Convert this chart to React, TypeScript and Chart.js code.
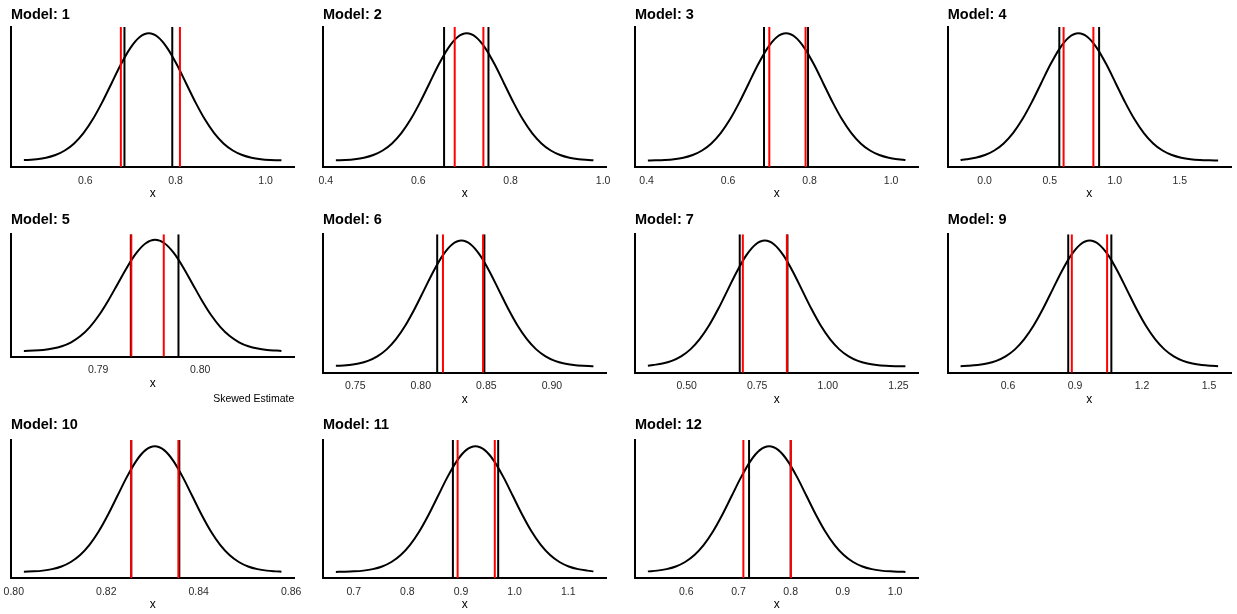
import React, { useEffect, useRef } from "react";
import { Chart, registerables } from "chart.js";

Chart.register(...registerables);

// ---------------- data ----------------
const modelNames = ["1", "2", "3", "4", "5", "6", "7", "9", "10", "11", "12"];

// centre and spread of each fitted bell curve
const curveMean = [0.741, 0.705, 0.742, 0.721, 0.79558, 0.831, 0.777, 0.966, 0.8305, 0.9269, 0.7587];
const curveSd = [0.0828, 0.0808, 0.0916, 0.2874, 0.003657, 0.02853, 0.1319, 0.1673, 0.008076, 0.0696, 0.0715];
// x-extent over which each curve is drawn
const curveFrom = [0.464, 0.422, 0.403, -0.185, 0.78272, 0.7352, 0.3626, 0.388, 0.80218, 0.6668, 0.5265];
const curveTo = [1.035, 0.979, 1.035, 1.795, 0.80796, 0.9317, 1.275, 1.541, 0.85789, 1.1468, 1.0198];

// interval lines
const blackLines = [
  [0.687, 0.793],
  [0.656, 0.752],
  [0.688, 0.796],
  [0.574, 0.88],
  [0.7932, 0.79787],
  [0.8125, 0.8485],
  [0.688, 0.857],
  [0.87, 1.063],
  [0.8254, 0.8358],
  [0.8849, 0.9693],
  [0.7203, 0.8],
];
const redLines = [
  [0.679, 0.81],
  [0.679, 0.741],
  [0.701, 0.79],
  [0.607, 0.836],
  [0.79325, 0.79643],
  [0.8169, 0.8475],
  [0.699, 0.855],
  [0.886, 1.044],
  [0.8254, 0.8356],
  [0.8937, 0.963],
  [0.7094, 0.8004],
];

const tickLabels = [
  ["0.6", "0.8", "1.0"],
  ["0.4", "0.6", "0.8", "1.0"],
  ["0.4", "0.6", "0.8", "1.0"],
  ["0.0", "0.5", "1.0", "1.5"],
  ["0.79", "0.80"],
  ["0.75", "0.80", "0.85", "0.90"],
  ["0.50", "0.75", "1.00", "1.25"],
  ["0.6", "0.9", "1.2", "1.5"],
  ["0.80", "0.82", "0.84", "0.86"],
  ["0.7", "0.8", "0.9", "1.0", "1.1"],
  ["0.6", "0.7", "0.8", "0.9", "1.0"],
];

const captions = ["", "", "", "", "Skewed Estimate", "", "", "", "", "", ""];

// shared bell shape: relative height at offsets (in sd units) from the centre
const bellZ = [
  -4.5, -4.25, -4, -3.75, -3.5, -3.25, -3, -2.75, -2.5, -2.25, -2, -1.75, -1.5, -1.25, -1, -0.75, -0.5, -0.25,
  0, 0.25, 0.5, 0.75, 1, 1.25, 1.5, 1.75, 2, 2.25, 2.5, 2.75, 3, 3.25, 3.5, 3.75, 4, 4.25, 4.5,
];
const bellHeight = [
  0.00004, 0.00012, 0.00034, 0.00088, 0.0022, 0.0051, 0.0111, 0.0228, 0.0439, 0.0796, 0.1353, 0.2163, 0.3247,
  0.4578, 0.6065, 0.7548, 0.8825, 0.9692, 1, 0.9692, 0.8825, 0.7548, 0.6065, 0.4578, 0.3247, 0.2163, 0.1353,
  0.0796, 0.0439, 0.0228, 0.0111, 0.0051, 0.0022, 0.00088, 0.00034, 0.00012, 0.00004,
];

// ---------------- layout / style ----------------
const FONT = "'Liberation Sans', Arial, Helvetica, sans-serif";
const PANEL_W = 312;
const PAGE_W = 1237;
const ROW_TOP = [0, 205, 410];
const ROW_H = [205, 205, 204];
const PLOT_TOP = [27, 29.3, 30];
const PLOT_BOTTOM = [167, 167.7, 168.3];
const CAPTION_PLOT_BOTTOM = 151.7;
const TITLE_CENTER = 14.5;
const TITLE_SIZE = 14.5;
const TICK_SIZE = 10.5;
const XTITLE_SIZE = 12;
const CAPTION_SIZE = 10.5;
const CAPTION_CENTER = 194.3;
const Y_MIN = -0.05;
const Y_MAX = 1.05;

function nearestHeight(z: number) {
  let best = 0;
  for (let k = 1; k < bellZ.length; k++) {
    if (Math.abs(bellZ[k] - z) < Math.abs(bellZ[best] - z)) best = k;
  }
  return bellHeight[best];
}

function curvePoints(i: number) {
  const m = curveMean[i];
  const s = curveSd[i];
  const a = curveFrom[i];
  const b = curveTo[i];
  const pts: { x: number; y: number }[] = [{ x: a, y: nearestHeight((a - m) / s) }];
  for (let k = 0; k < bellZ.length; k++) {
    const x = m + bellZ[k] * s;
    if (x > a && x < b) pts.push({ x, y: bellHeight[k] });
  }
  pts.push({ x: b, y: nearestHeight((b - m) / s) });
  return pts;
}

function vline(v: number, color: string, order: number) {
  return {
    data: [
      { x: v, y: Y_MIN },
      { x: v, y: Y_MAX },
    ],
    borderColor: color,
    borderWidth: 2,
    pointRadius: 0,
    order,
  };
}

function Panel({ i }: { i: number }) {
  const ref = useRef<HTMLCanvasElement>(null);
  const row = Math.floor(i / 4);
  const col = i % 4;
  const W = col === 3 ? PAGE_W - 3 * PANEL_W : PANEL_W;
  const H = ROW_H[row];

  useEffect(() => {
    if (!ref.current) return;
    const hasCaption = captions[i] !== "";
    const T = PLOT_TOP[row];
    const B = hasCaption ? CAPTION_PLOT_BOTTOM : PLOT_BOTTOM[row];
    const L = col === 3 ? 11.7 : 11;
    const R = col === 3 ? 295 : 294.3;
    const titleLH = TITLE_SIZE * 1.2;
    const xTitleLH = XTITLE_SIZE * 1.2;
    const axisH = 26.5 + xTitleLH / 2;
    const capLH = CAPTION_SIZE * 1.2;
    const capPadTop = CAPTION_CENTER - (B + axisH) - capLH / 2;
    const capH = hasCaption ? capPadTop + capLH : 0;
    const padBottom = H - B - axisH - capH;

    const lo = curveFrom[i];
    const hi = curveTo[i];
    const span = hi - lo;
    const tickVals = tickLabels[i].map((t) => parseFloat(t));

    const datasets: any[] = [
      {
        data: curvePoints(i),
        borderColor: "#000000",
        borderWidth: 2,
        pointRadius: 0,
        cubicInterpolationMode: "monotone",
        order: 2,
      },
      vline(blackLines[i][0], "#000000", 1),
      vline(blackLines[i][1], "#000000", 1),
      vline(redLines[i][0], "#FF0000", 0),
      vline(redLines[i][1], "#FF0000", 0),
    ];

    const chart = new Chart(ref.current, {
      type: "line",
      data: { datasets },
      options: {
        animation: false,
        responsive: false,
        events: [],
        layout: { padding: { left: L, right: W - R, top: 0, bottom: padBottom } },
        plugins: {
          legend: { display: false },
          tooltip: { enabled: false },
          title: {
            display: true,
            text: "Model: " + modelNames[i],
            align: "start",
            color: "#000000",
            font: { family: FONT, size: TITLE_SIZE, weight: "bold" },
            padding: { top: TITLE_CENTER - titleLH / 2, bottom: T - TITLE_CENTER - titleLH / 2 },
          },
          subtitle: {
            display: hasCaption,
            text: captions[i],
            position: "bottom",
            align: "end",
            color: "#000000",
            font: { family: FONT, size: CAPTION_SIZE },
            padding: { top: capPadTop, bottom: 0 },
          },
        },
        scales: {
          x: {
            type: "linear",
            min: lo - 0.05 * span,
            max: hi + 0.05 * span,
            afterBuildTicks: (s: any) => {
              s.ticks = tickVals.map((v) => ({ value: v }));
            },
            afterFit: (s: any) => {
              s.height = axisH;
            },
            ticks: {
              autoSkip: false,
              maxRotation: 0,
              padding: 0,
              color: "#2b2b2b",
              font: { family: FONT, size: TICK_SIZE },
              callback: (_v: any, idx: number) => tickLabels[i][idx],
            },
            grid: { display: false, drawTicks: true, tickLength: 7.5 },
            border: { display: true, color: "#000000", width: 2 },
            title: {
              display: true,
              text: "x",
              color: "#000000",
              font: { family: FONT, size: XTITLE_SIZE },
              padding: 0,
            },
          },
          y: {
            type: "linear",
            min: Y_MIN,
            max: Y_MAX,
            ticks: { display: false },
            grid: { display: false, drawTicks: false },
            border: { display: true, color: "#000000", width: 2 },
            afterFit: (s: any) => {
              s.width = 0;
            },
          },
        },
      } as any,
    });
    return () => chart.destroy();
  }, []);

  return (
    <canvas
      ref={ref}
      width={W}
      height={H}
      style={{ position: "absolute", left: col * PANEL_W, top: ROW_TOP[row], width: W, height: H }}
    />
  );
}

export default function App() {
  return (
    <div style={{ position: "absolute", left: 0, top: 0, width: PAGE_W, height: 614, background: "#ffffff" }}>
      {modelNames.map((_, i) => (
        <Panel key={i} i={i} />
      ))}
    </div>
  );
}
